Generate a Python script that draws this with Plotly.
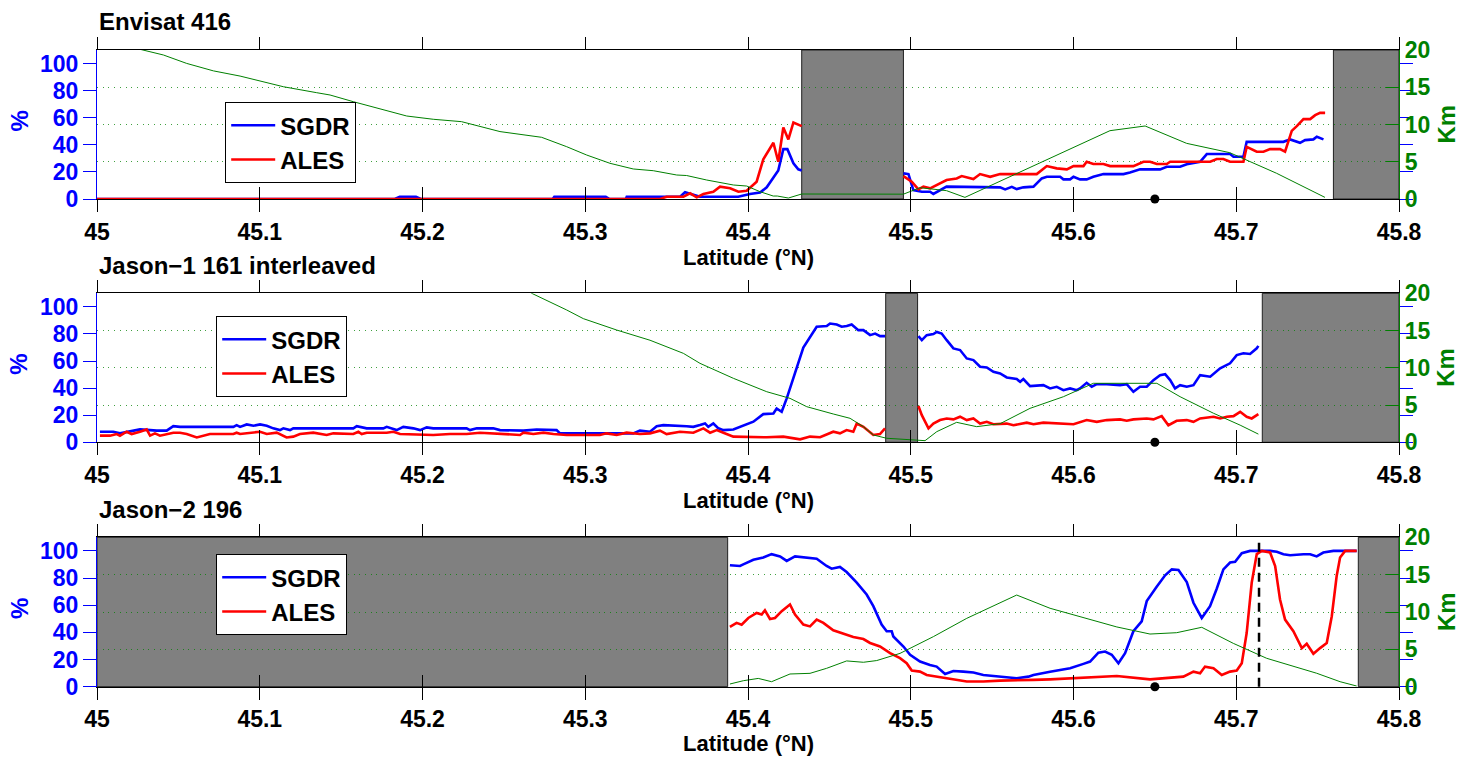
import plotly.graph_objects as go

W, H = 1473, 758

# ---------------- data ----------------
lat_ticks = [45.0, 45.1, 45.2, 45.3, 45.4, 45.5, 45.6, 45.7, 45.8]
lat_tick_text = ["45", "45.1", "45.2", "45.3", "45.4", "45.5", "45.6", "45.7", "45.8"]
pct_ticks = [0, 20, 40, 60, 80, 100]
km_ticks = [0, 5, 10, 15, 20]
titles = ["Envisat 416", "Jason\u22121 161 interleaved", "Jason\u22122 196"]
coast_point_lat = 45.65
j2_marker_lat = 45.714

# Envisat 416
env_sgdr_lat = [45.000, 45.183, 45.186, 45.196, 45.199, 45.280, 45.281, 45.3126, 45.315, 45.325, 45.3255,
                45.3583, 45.3613, 45.3664, 45.3705, 45.394, 45.4012, 45.4074, 45.4115, 45.4186, 45.4217,
                45.4242, 45.4279, 45.4309, 45.433, None,
                45.4955, 45.4986, 45.5016, 45.5068, 45.5119, 45.5139, 45.522, 45.5528, 45.5549, 45.5580,
                45.5621, 45.5651, 45.5692, 45.5754, 45.5805, 45.5836, 45.5918, 45.5938, 45.5979, 45.6000,
                45.6040, 45.6081, 45.6122, 45.6184, 45.6307, 45.6347, 45.6409, 45.6532, 45.6573, 45.6655,
                45.6696, 45.6778, 45.6819, 45.6962, 45.6983, 45.7044, 45.7064, 45.7290, 45.7331, 45.7392,
                45.7423, 45.7474, 45.7495, 45.7536]
env_sgdr = [0, 0, 1.7, 1.7, 0, 0, 1.7, 1.7, 0, 0, 1.7,
            1.7, 5.0, 3.0, 1.7, 1.7, 3.7, 4.7, 8.6, 21.0, 36.8,
            36.8, 26.3, 21.9, 21.0, None,
            18.9, 18.4, 6.6, 5.4, 5.4, 3.7, 9.1, 9.1, 8.6, 7.1,
            9.0, 7.3, 8.6, 9.1, 15.2, 16.4, 16.4, 14.5, 14.5, 16.4,
            14.5, 14.5, 16.4, 18.4, 18.4, 19.6, 21.9, 21.9, 23.8, 23.8,
            25.7, 27.5, 33.2, 33.2, 31.2, 31.2, 42.2, 42.2, 44.0, 41.5,
            43.5, 44.0, 45.9, 44.0]
env_ales_lat = [45.000, 45.346, 45.350, 45.3603, 45.3644, 45.3685, 45.3726, 45.3787, 45.3828, 45.3890,
                45.3941, 45.3992, 45.4053, 45.4094, 45.4156, 45.4186, 45.4217, 45.4248, 45.4279, 45.4330, None,
                45.4955, 45.5006, 45.5047, 45.5078, 45.5119, 45.5220, 45.5282, 45.5313, 45.5385, 45.5426,
                45.5488, 45.5549, 45.5774, 45.5836, 45.5897, 45.5959, 45.6000, 45.6061, 45.6081, 45.6122,
                45.6184, 45.6225, 45.6368, 45.6430, 45.6471, 45.6512, 45.6573, 45.6594, 45.6840, 45.6880,
                45.6921, 45.6962, 45.7044, 45.7064, 45.7126, 45.7167, 45.7208, 45.7269, 45.7300, 45.7341,
                45.7372, 45.7413, 45.7454, 45.7485, 45.7515, 45.7546]
env_ales = [0, 0, 1.7, 1.7, 4.2, 1.2, 3.7, 5.4, 9.1, 7.9,
            5.4, 6.1, 12.8, 29.3, 41.5, 27.5, 52.8, 44.0, 56.5, 53.8, None,
            16.9, 12.8, 7.1, 9.1, 7.9, 14.0, 15.2, 16.9, 14.7, 18.4,
            16.4, 18.4, 18.4, 24.3, 22.6, 21.9, 24.3, 24.3, 27.5, 25.8,
            25.8, 24.3, 24.3, 27.5, 27.5, 25.8, 25.8, 27.5, 27.5, 29.5,
            29.5, 27.5, 27.5, 38.5, 34.9, 34.9, 36.8, 36.8, 34.9, 50.3,
            53.8, 59.0, 59.0, 61.9, 63.6, 63.6]
env_dist_lat = [45.000, 45.0285, 45.0408, 45.0551, 45.0715, 45.0879, 45.1002, 45.1145, 45.1350, 45.1432,
                45.1575, 45.1760, 45.1903, 45.2066, 45.2240, 45.2476, 45.2600, 45.2732, 45.2886, 45.3009,
                45.3152, 45.3295, 45.3418, 45.3562, 45.3623, 45.3746, 45.3910, 45.3992, 45.4074, 45.4155,
                45.4180, 45.4248, 45.4330, 45.4955, 45.5057, 45.5220, 45.5333, 45.6224, 45.6440, 45.6695,
                45.6960, 45.7248, 45.7545]
env_dist = [21.5, 20.0, 19.33, 18.2, 17.2, 16.5, 15.84, 15.07, 14.27, 13.96,
            13.06, 11.95, 11.14, 10.7, 10.38, 9.05, 8.72, 8.28, 7.02, 5.9,
            4.79, 4.03, 3.8, 3.22, 3.15, 2.55, 1.88, 1.74, 0.98, 0.40,
            0.40, 0.13, 0.67, 0.65, 1.52, 1.12, 0.22, 9.17, 9.8, 7.47,
            6.22, 3.45, 0.22]

# Jason-1 161 interleaved
j1_sgdr_lat = [45.0018, 45.0100, 45.0141, 45.0223, 45.0264, 45.0326, 45.0367, 45.0428, 45.0469, 45.0510,
               45.0838, 45.0858, 45.0879, 45.0920, 45.0961, 45.1002, 45.1043, 45.1083, 45.1124, 45.1145,
               45.1186, 45.1206, 45.1575, 45.1596, 45.1636, 45.1657, 45.1759, 45.1780, 45.1841, 45.1882,
               45.1944, 45.1985, 45.2026, 45.2066, 45.2271, 45.2292, 45.2333, 45.2435, 45.2476, 45.2538,
               45.2620, 45.2701, 45.2824, 45.2845, 45.3295, 45.3336, 45.3398, 45.3439, 45.3480, 45.3623,
               45.3664, 45.3705, 45.3736, 45.3756, 45.3787, 45.3818, 45.3849, 45.3910, 45.3951, 45.4033,
               45.4094, 45.4156, 45.4176, 45.4207, 45.4238, 45.4279, 45.4340, 45.4422, 45.4484, 45.4504,
               45.4545, 45.4576, 45.4607, 45.4637, 45.4678, 45.4709, 45.4750, 45.4781, 45.4812, 45.4842, None,
               45.5047, 45.5068, 45.5098, 45.5139, 45.5160, 45.5190, 45.5221, 45.5262, 45.5303, 45.5344,
               45.5385, 45.5426, 45.5467, 45.5508, 45.5549, 45.5590, 45.5651, 45.5672, 45.5692, 45.5733,
               45.5815, 45.5836, 45.5856, 45.5897, 45.5938, 45.5979, 45.6020, 45.6040, 45.6081, 45.6112,
               45.6143, 45.6204, 45.6286, 45.6327, 45.6368, 45.6409, 45.6450, 45.6491, 45.6532, 45.6563,
               45.6594, 45.6624, 45.6655, 45.6696, 45.6737, 45.6778, 45.6840, 45.6901, 45.6962, 45.7003,
               45.7044, 45.7085, 45.7126, 45.7136]
j1_sgdr = [7.8, 7.8, 6.6, 8.6, 9.5, 9.0, 8.6, 8.6, 11.9, 11.4,
           11.4, 12.7, 11.4, 13.2, 12.2, 13.2, 12.2, 10.3, 9.0, 10.3,
           9.0, 10.3, 10.3, 11.9, 11.0, 10.3, 10.3, 11.4, 9.0, 11.4,
           10.3, 9.0, 11.0, 10.3, 10.3, 9.0, 10.3, 10.3, 9.0, 9.0,
           8.6, 9.5, 9.0, 6.6, 6.6, 8.6, 7.8, 11.9, 12.7, 11.9,
           11.4, 12.7, 13.9, 11.4, 13.9, 10.3, 9.0, 9.5, 11.4, 15.2,
           20.8, 21.3, 25.0, 22.5, 32.4, 47.2, 70.0, 85.3, 85.8, 87.7,
           87.0, 85.3, 85.8, 87.0, 82.8, 82.8, 79.1, 80.3, 78.4, 78.4, None,
           78.4, 75.4, 79.1, 79.9, 81.5, 80.3, 75.4, 69.3, 68.1, 61.9,
           60.7, 55.8, 55.3, 52.1, 50.8, 47.9, 46.7, 44.7, 46.7, 41.5,
           42.2, 41.0, 39.8, 41.0, 38.5, 39.8, 38.5, 39.8, 43.9, 41.0,
           42.9, 42.9, 42.2, 42.9, 37.3, 41.0, 41.0, 45.9, 49.6, 50.3,
           45.9, 39.8, 42.2, 41.0, 42.2, 49.6, 48.4, 54.6, 58.3, 64.4,
           65.7, 65.2, 69.4, 71.2]
j1_ales_lat = [45.0018, 45.0080, 45.0121, 45.0141, 45.0182, 45.0213, 45.0264, 45.0305, 45.0326, 45.0356,
               45.0387, 45.0449, 45.0469, 45.0510, 45.0551, 45.0613, 45.0653, 45.0694, 45.0838, 45.0858,
               45.0879, 45.0961, 45.1002, 45.1043, 45.1104, 45.1165, 45.1206, 45.1247, 45.1329, 45.1411,
               45.1452, 45.1575, 45.1606, 45.1626, 45.1657, 45.1780, 45.1821, 45.1862, 45.2066, 45.2169,
               45.2271, 45.2353, 45.2476, 45.2599, 45.2620, 45.2681, 45.2743, 45.2804, 45.2886, 45.3090,
               45.3131, 45.3193, 45.3254, 45.3336, 45.3398, 45.3459, 45.3500, 45.3582, 45.3664, 45.3726,
               45.3767, 45.3808, 45.3849, 45.3910, 45.4115, 45.4217, 45.4320, 45.4381, 45.4443, 45.4524,
               45.4565, 45.4606, 45.4647, 45.4668, 45.4709, 45.4770, 45.4811, 45.4842, None,
               45.5047, 45.5068, 45.5109, 45.5139, 45.5180, 45.5221, 45.5262, 45.5303, 45.5344, 45.5385,
               45.5426, 45.5467, 45.5508, 45.5590, 45.5631, 45.5713, 45.5754, 45.5815, 45.6000, 45.6081,
               45.6143, 45.6204, 45.6286, 45.6327, 45.6368, 45.6450, 45.6491, 45.6542, 45.6583, 45.6634,
               45.6696, 45.6737, 45.6778, 45.6860, 45.6901, 45.6942, 45.6983, 45.7024, 45.7064, 45.7095,
               45.7136]
j1_ales = [4.9, 4.9, 6.1, 4.9, 7.8, 6.1, 7.8, 9.5, 4.9, 6.6,
           4.9, 6.6, 7.1, 7.1, 6.1, 3.6, 4.9, 6.1, 6.1, 7.1,
           6.1, 7.1, 7.8, 6.1, 7.1, 3.6, 4.2, 6.1, 7.1, 5.4,
           6.6, 6.1, 7.8, 6.1, 7.1, 7.1, 7.8, 6.1, 5.4, 6.1,
           6.1, 7.1, 6.1, 5.4, 7.1, 6.1, 7.1, 6.1, 5.4, 5.4,
           6.6, 5.4, 7.1, 6.1, 6.6, 8.6, 6.1, 7.8, 7.1, 10.3,
           7.1, 9.0, 7.1, 4.2, 3.7, 4.2, 2.2, 4.2, 3.7, 7.8,
           6.6, 9.0, 7.8, 13.8, 11.4, 5.4, 6.1, 10.3, None,
           26.8, 20.0, 10.3, 13.8, 16.4, 17.6, 16.9, 18.9, 16.4, 17.6,
           13.9, 15.1, 13.3, 13.8, 12.6, 14.5, 13.3, 14.5, 13.3, 16.4,
           15.1, 16.4, 16.9, 15.9, 16.9, 17.6, 16.9, 19.3, 12.6, 15.9,
           16.4, 15.1, 17.6, 18.8, 17.6, 18.8, 19.3, 22.5, 18.8, 17.6,
           20.8]
j1_dist_lat = [45.2600, 45.2671, 45.2886, 45.2988, 45.3193, 45.3398, 45.3603, 45.3705, 45.3910, 45.4115,
               45.4258, 45.4361, 45.4524, 45.4627, 45.4709, 45.4770, 45.4852, 45.5036, 45.5088, 45.5160,
               45.5282, 45.5405, 45.5549, 45.5733, 45.5938, 45.6122, 45.6512, 45.6655, 45.6860, 45.7024,
               45.7136]
j1_dist = [21.0, 20.0, 17.76, 16.6, 15.07, 13.7, 11.94, 10.6, 8.59, 6.79,
           5.9, 4.78, 3.8, 3.22, 2.1, 0.98, 0.54, 0.22, 0.22, 1.43,
           2.68, 2.1, 2.5, 4.56, 6.12, 7.92, 7.92, 6.12, 3.9, 2.3,
           1.1]

# Jason-2 196
j2_sgdr_lat = [45.3889, 45.3951, 45.3971, 45.4033, 45.4094, 45.4145, 45.4197, 45.4238, 45.4289, 45.4361,
               45.4422, 45.4483, 45.4514, 45.4565, 45.4606, 45.4668, 45.4729, 45.4770, 45.4821, 45.4852,
               45.4883, 45.4893, 45.4955, 45.4996, 45.5057, 45.5118, 45.5159, 45.5211, 45.5262, 45.5323,
               45.5385, 45.5446, 45.5549, 45.5651, 45.5723, 45.5754, 45.5856, 45.5979, 45.6061, 45.6102,
               45.6153, 45.6194, 45.6235, 45.6276, 45.6317, 45.6368, 45.6419, 45.6450, 45.6511, 45.6563,
               45.6604, 45.6645, 45.6696, 45.6737, 45.6788, 45.6839, 45.6880, 45.6921, 45.6962, 45.6993,
               45.7034, 45.7085, 45.7208, 45.7249, 45.7290, 45.7331, 45.7413, 45.7454, 45.7494, 45.7535,
               45.7597, 45.7699, 45.7740]
j2_sgdr = [89.4, 88.9, 90.1, 93.4, 95.1, 97.6, 95.9, 92.6, 95.9, 95.1,
           94.2, 88.9, 86.9, 88.2, 84.4, 76.6, 67.9, 59.3, 45.7, 40.8,
           40.8, 37.0, 29.6, 23.5, 18.5, 16.0, 14.8, 9.4, 11.6, 11.1,
           10.4, 8.6, 7.4, 6.2, 7.4, 8.6, 11.0, 13.6, 16.8, 18.5,
           25.1, 25.9, 23.5, 17.3, 24.7, 40.8, 48.1, 63.0, 73.6, 82.0,
           86.4, 85.9, 77.1, 61.8, 50.6, 59.3, 72.1, 86.4, 91.4, 91.9,
           98.3, 100.0, 100.0, 99.3, 97.5, 96.8, 97.5, 97.5, 95.9, 98.8,
           100.0, 100.0, 100.0]
j2_ales_lat = [45.3889, 45.3930, 45.3961, 45.4002, 45.4053, 45.4084, 45.4104, 45.4135, 45.4166, 45.4207,
               45.4258, 45.4289, 45.4340, 45.4381, 45.4422, 45.4463, 45.4524, 45.4565, 45.4606, 45.4647,
               45.4709, 45.4750, 45.4811, 45.4873, 45.4934, 45.4975, 45.5006, 45.5057, 45.5098, 45.5139,
               45.5221, 45.5344, 45.5446, 45.5549, 45.5651, 45.5754, 45.5856, 45.6061, 45.6266, 45.6470,
               45.6573, 45.6675, 45.6737, 45.6778, 45.6808, 45.6860, 45.6911, 45.6962, 45.7003, 45.7034,
               45.7064, 45.7095, 45.7126, 45.7157, 45.7208, 45.7239, 45.7269, 45.7300, 45.7351, 45.7403,
               45.7433, 45.7474, 45.7515, 45.7556, 45.7587, 45.7617, 45.7638, 45.7669, 45.7740]
j2_ales = [44.0, 47.0, 45.7, 50.6, 54.3, 53.1, 56.3, 49.9, 50.6, 55.6,
           60.5, 53.1, 45.7, 44.4, 49.4, 47.0, 41.5, 40.0, 38.3, 36.6,
           35.1, 32.2, 29.6, 24.7, 21.0, 17.3, 11.9, 11.1, 8.6, 7.9,
           6.2, 3.8, 3.8, 4.5, 5.0, 5.0, 5.4, 6.9, 7.9, 5.4,
           6.2, 7.4, 11.1, 9.9, 14.8, 13.6, 8.6, 11.1, 11.9, 17.3,
           39.5, 76.5, 97.6, 100.0, 98.8, 88.9, 64.2, 49.4, 40.8, 28.4,
           31.6, 24.2, 28.4, 32.1, 51.9, 81.5, 95.1, 100.0, 100.0]
j2_dist_lat = [45.3889, 45.3971, 45.4063, 45.4145, 45.4258, 45.4381, 45.4483, 45.4606, 45.4709, 45.4791,
               45.4934, 45.5139, 45.5344, 45.5651, 45.5856, 45.6061, 45.6266, 45.6470, 45.6634, 45.6788,
               45.6982, 45.7187, 45.7494, 45.7638, 45.7740]
j2_dist = [0.36, 0.8, 1.11, 0.67, 1.7, 1.79, 2.46, 3.45, 3.27, 3.5,
           4.46, 6.7, 9.15, 12.27, 10.5, 9.3, 8.0, 7.05, 7.23, 7.95,
           5.8, 3.8, 1.8, 0.67, 0.09]

# land / invalid zones (latitude ranges)
env_masks = [[45.433, 45.4955], [45.7597, 45.8]]
j1_masks = [[45.4846, 45.5042], [45.716, 45.8]]
j2_masks = [[45.0, 45.3875], [45.775, 45.8]]

# ---------------- styling / layout ----------------
FONT = "Liberation Sans, Arial, sans-serif"
BLUE = "#0000FF"
RED = "#FF0000"
GREEN = "#008000"
GRAY = "#808080"
TICK_SIZE = 23

panels = [
    dict(sgdr=(env_sgdr_lat, env_sgdr), ales=(env_ales_lat, env_ales), dist=(env_dist_lat, env_dist),
         masks=env_masks, top=50.0, bottom=199.0),
    dict(sgdr=(j1_sgdr_lat, j1_sgdr), ales=(j1_ales_lat, j1_ales), dist=(j1_dist_lat, j1_dist),
         masks=j1_masks, top=293.3, bottom=442.3),
    dict(sgdr=(j2_sgdr_lat, j2_sgdr), ales=(j2_ales_lat, j2_ales), dist=(j2_dist_lat, j2_dist),
         masks=j2_masks, top=537.3, bottom=686.7),
]
legend_boxes = [(225, 102), (216, 316), (216, 554)]

X0, X1 = 97.0, 1399.0
xdom = [X0 / W, X1 / W]


def py(y):
    return 1 - y / H


fig = go.Figure()
layout = dict(
    width=W, height=H, margin=dict(l=0, r=0, t=0, b=0, autoexpand=False),
    paper_bgcolor="white", plot_bgcolor="white",
    font=dict(family=FONT, size=22, color="black", weight="bold"),
    showlegend=True,
)
shapes = []
annotations = []

for i, p in enumerate(panels):
    n = i + 1
    xid = "x" if n == 1 else f"x{n}"
    yl = "y" if n == 1 else f"y{n}"
    yr = f"y{n + 3}"
    xin = f"x{n + 3}"
    leg = "legend" if n == 1 else f"legend{n}"
    ydom = [py(p["bottom"]), py(p["top"])]

    layout["xaxis" if n == 1 else f"xaxis{n}"] = dict(
        domain=xdom, anchor=yl, range=[45.0, 45.8], tickmode="array",
        tickvals=lat_ticks, ticktext=lat_tick_text, ticks="outside", ticklen=12,
        tickwidth=1, tickcolor="black", showline=True, linecolor="black", linewidth=1.2,
        mirror="ticks", showgrid=False, zeroline=False,
        tickfont=dict(family=FONT, size=TICK_SIZE, color="black", weight="bold"),
    )
    layout[f"xaxis{n + 3}"] = dict(
        domain=xdom, anchor=yl, overlaying=xid, range=[45.0, 45.8], tickmode="array",
        tickvals=lat_ticks, ticks="inside", ticklen=12, tickwidth=1, tickcolor="black",
        showticklabels=False, showline=False, showgrid=False, zeroline=False,
    )
    layout["yaxis" if n == 1 else f"yaxis{n}"] = dict(
        domain=ydom, anchor=xid, range=[0, 110], tickmode="array", tickvals=pct_ticks,
        ticks="outside", ticklen=13, tickwidth=1, tickcolor=BLUE,
        showline=True, linecolor=BLUE, linewidth=1.2, mirror="ticks",
        showgrid=False, zeroline=False,
        tickfont=dict(family=FONT, size=TICK_SIZE, color=BLUE, weight="bold"),
    )
    layout[f"yaxis{n + 3}"] = dict(
        domain=ydom, anchor=xid, overlaying=yl, side="right", range=[0, 20],
        tickmode="array", tickvals=km_ticks, ticks="inside", ticklen=13, tickwidth=1,
        tickcolor=GREEN, showline=True, linecolor=GREEN, linewidth=1.2,
        showgrid=True, gridcolor="rgba(0,128,0,0.75)", griddash="1px,4.7px", gridwidth=1,
        zeroline=False,
        tickfont=dict(family=FONT, size=TICK_SIZE, color=GREEN, weight="bold"),
    )

    lx, ly = legend_boxes[i]
    layout[leg] = dict(
        x=lx / W, y=py(ly), xanchor="left", yanchor="top", bgcolor="white",
        bordercolor="black", borderwidth=1.2, tracegroupgap=0, itemwidth=44,
        font=dict(family=FONT, size=24, color="black", weight="bold"),
    )

    # masked zones
    for a, b in p["masks"]:
        shapes.append(dict(type="rect", xref=xid, yref=f"{yl} domain", x0=a, x1=b, y0=0, y1=1,
                           fillcolor=GRAY, line=dict(color="#202020", width=1), layer="below"))

    # traces
    fig.add_trace(go.Scatter(x=p["sgdr"][0], y=p["sgdr"][1], mode="lines", name="SGDR",
                             line=dict(color=BLUE, width=2.6), xaxis=xid, yaxis=yl,
                             legend=leg, connectgaps=False))
    fig.add_trace(go.Scatter(x=p["ales"][0], y=p["ales"][1], mode="lines", name="ALES",
                             line=dict(color=RED, width=2.6), xaxis=xid, yaxis=yl,
                             legend=leg, connectgaps=False))
    fig.add_trace(go.Scatter(x=p["dist"][0], y=p["dist"][1], mode="lines", name="distance",
                             line=dict(color=GREEN, width=1), xaxis=xid, yaxis=yr,
                             showlegend=False))
    fig.add_trace(go.Scatter(x=[coast_point_lat], y=[0], mode="markers",
                             marker=dict(color="black", size=9), xaxis=xid, yaxis=yl,
                             showlegend=False, cliponaxis=False))
    fig.add_trace(go.Scatter(x=[], y=[], xaxis=xin, yaxis=yl, showlegend=False))

    # texts
    annotations.append(dict(text=titles[i], x=X0 / W, y=py(p["top"] - 28), xref="paper", yref="paper",
                            xanchor="left", yanchor="middle", showarrow=False,
                            font=dict(family=FONT, size=24, color="black", weight="bold")))
    label_bottom = min(p["bottom"] + 72, H - 1)
    annotations.append(dict(text="Latitude (\u00b0N)", x=(xdom[0] + xdom[1]) / 2,
                            y=py(label_bottom), xref="paper", yref="paper",
                            xanchor="center", yanchor="bottom", showarrow=False, borderpad=0,
                            font=dict(family=FONT, size=22, color="black", weight="bold")))
    annotations.append(dict(text="%", x=19 / W, y=py((p["top"] + p["bottom"]) / 2 - 3),
                            xref="paper", yref="paper", xanchor="center", yanchor="middle",
                            textangle=-90, showarrow=False,
                            font=dict(family=FONT, size=24, color=BLUE, weight="bold")))
    annotations.append(dict(text="Km", x=1446 / W, y=py((p["top"] + p["bottom"]) / 2),
                            xref="paper", yref="paper", xanchor="center", yanchor="middle",
                            textangle=-90, showarrow=False,
                            font=dict(family=FONT, size=24, color=GREEN, weight="bold")))

# dashed marker line in Jason-2 panel
shapes.append(dict(type="line", xref="x3", yref="y3 domain", x0=j2_marker_lat, x1=j2_marker_lat,
                   y0=0, y1=1, line=dict(color="black", width=2.5, dash="9px,6px"), layer="above"))

layout["shapes"] = shapes
layout["annotations"] = annotations
fig.update_layout(**layout)

fig.write_html("out.html")
